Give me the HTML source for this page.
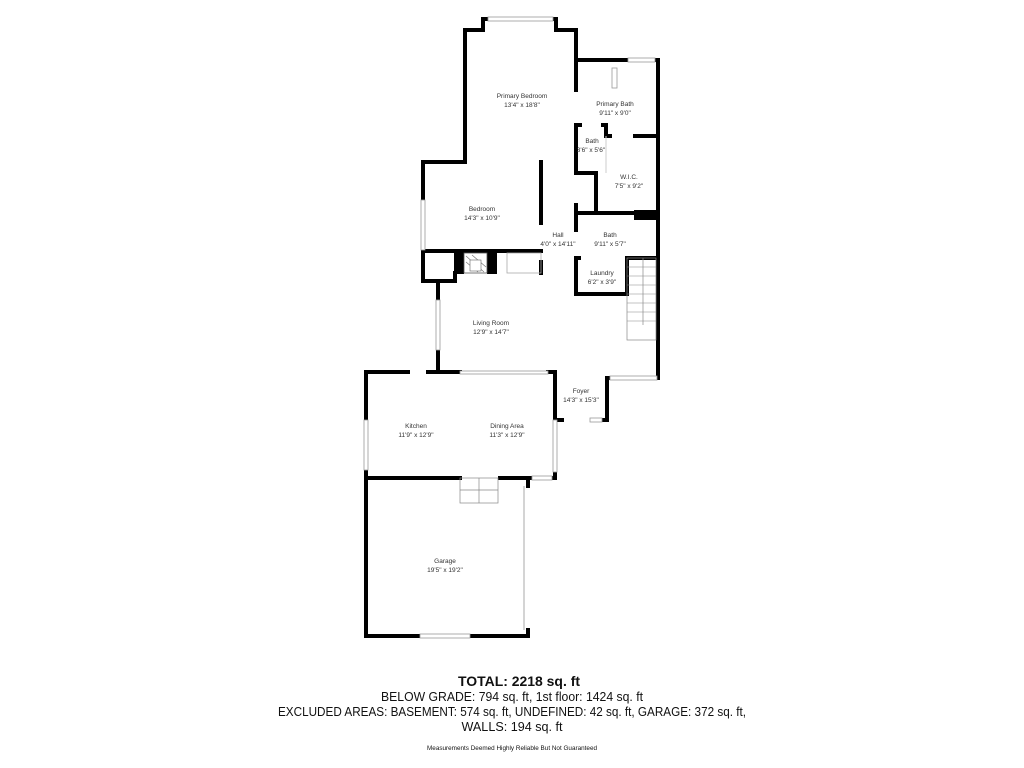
<!DOCTYPE html>
<html><head><meta charset="utf-8"><style>
html,body{margin:0;padding:0;background:#fff;width:1024px;height:768px;overflow:hidden}
svg{display:block}
.l{font-family:"Liberation Sans",sans-serif;font-size:6.5px;fill:#333;text-anchor:middle}
.t{font-family:"Liberation Sans",sans-serif;text-anchor:middle;fill:#111}
</style></head><body>
<svg width="1024" height="768" viewBox="0 0 1024 768">
<g stroke="#000" stroke-width="4" fill="none" stroke-linecap="square">
<polyline points="465,162 465,30 483,30 483,19 488,19"/>
<polyline points="553,19 556,19 556,30 576,30 576,90"/>
<polyline points="576,60 628,60"/>
<polyline points="655,60 658,60 658,378"/>
<polyline points="578,173 576,173 576,125 580,125"/>
<polyline points="603,125 606,125 606,136 610,136"/>
<line x1="576" y1="173" x2="596" y2="173"/>
<line x1="596" y1="173" x2="596" y2="212"/>
<polyline points="635,136 656,136"/>
<polyline points="465,162 423,162 423,200"/>
<polyline points="423,250 423,281 438,281 438,300"/>
<polyline points="424,251 541,251"/>
<line x1="541" y1="162" x2="541" y2="223"/>
<line x1="541" y1="262" x2="541" y2="273"/>
<polyline points="438,281 455,281 455,273"/>
<line x1="576" y1="205" x2="576" y2="230"/>
<polyline points="576,213 634,213"/>
<polyline points="576,258 576,294 627,294 627,258 656,258"/>
<line x1="576" y1="258" x2="579" y2="258"/>
<line x1="438" y1="350" x2="438" y2="372"/>
<polyline points="607,378 610,378"/>
<polyline points="607,378 607,420 600,420"/>
<polyline points="408,372 366,372 366,420"/>
<polyline points="366,470 366,636 420,636"/>
<line x1="428" y1="372" x2="460" y2="372"/>
<polyline points="548,372 555,372 555,420"/>
<polyline points="555,472 555,478 532,478"/>
<line x1="366" y1="478" x2="460" y2="478"/>
<line x1="500" y1="478" x2="528" y2="478"/>
<polyline points="470,636 528,636 528,630"/>
<line x1="528" y1="480" x2="528" y2="486"/>
<line x1="555" y1="420" x2="562" y2="420"/>
</g>
<line x1="606" y1="136" x2="606" y2="173" stroke="#ccc" stroke-width="1"/>
<rect x="634" y="210" width="23" height="10" fill="#000"/>
<rect x="454" y="251" width="10" height="23" fill="#000"/>
<rect x="487" y="251" width="10" height="23" fill="#000"/>
<rect x="464" y="253" width="23" height="20" fill="#fff" stroke="#555" stroke-width="0.8"/>
<g stroke="#777" stroke-width="0.7">
<line x1="466" y1="256" x2="484" y2="272"/><line x1="466" y1="262" x2="478" y2="272"/><line x1="472" y1="255" x2="486" y2="267"/>
</g>
<rect x="470" y="260" width="11" height="11" fill="#fff" stroke="#666" stroke-width="0.6"/>
<rect x="507" y="253" width="34" height="20" fill="none" stroke="#aaa" stroke-width="0.8"/>
<g fill="#fff" stroke="#999" stroke-width="0.8">
<rect x="488" y="17" width="65" height="4"/>
<rect x="628" y="58" width="27" height="4"/>
<rect x="421" y="200" width="4" height="50"/>
<rect x="436" y="300" width="4" height="50"/>
<rect x="610" y="376" width="47" height="4"/>
<rect x="460" y="371" width="88" height="3"/>
<rect x="364" y="420" width="4" height="50"/>
<rect x="553" y="420" width="4" height="52"/>
<rect x="532" y="476" width="20" height="4"/>
<rect x="420" y="634" width="50" height="4"/>
<rect x="612" y="68" width="5" height="20"/>
<rect x="590" y="418" width="12" height="4"/>
</g>
<line x1="524" y1="486" x2="524" y2="630" stroke="#aaa" stroke-width="1"/>
<g stroke="#888" stroke-width="0.7" fill="none">
<rect x="627" y="258" width="29" height="82"/>
<rect x="460" y="478" width="38" height="25"/>
<line x1="479" y1="478" x2="479" y2="503"/><line x1="460" y1="490" x2="498" y2="490"/>
<line x1="643" y1="258" x2="643" y2="325"/>
</g>
<g stroke="#888" stroke-width="0.6">
<line x1="627" y1="267" x2="656" y2="267"/><line x1="627" y1="276" x2="656" y2="276"/><line x1="627" y1="285" x2="656" y2="285"/><line x1="627" y1="294" x2="656" y2="294"/><line x1="627" y1="303" x2="656" y2="303"/><line x1="627" y1="312" x2="656" y2="312"/><line x1="627" y1="321" x2="656" y2="321"/>
</g>
<g>
<text class="l" x="522" y="98">Primary Bedroom</text><text class="l" x="522" y="107">13'4" x 18'8"</text>
<text class="l" x="615" y="106">Primary Bath</text><text class="l" x="615" y="115">9'11" x 9'0"</text>
<text class="l" x="592" y="143">Bath</text><text class="l" x="591" y="152">3'6" x 5'6"</text>
<text class="l" x="629" y="179">W.I.C.</text><text class="l" x="629" y="188">7'5" x 9'2"</text>
<text class="l" x="482" y="211">Bedroom</text><text class="l" x="482" y="220">14'3" x 10'9"</text>
<text class="l" x="558" y="237">Hall</text><text class="l" x="558" y="246">4'0" x 14'11"</text>
<text class="l" x="610" y="237">Bath</text><text class="l" x="610" y="246">9'11" x 5'7"</text>
<text class="l" x="602" y="275">Laundry</text><text class="l" x="602" y="284">6'2" x 3'9"</text>
<text class="l" x="491" y="325">Living Room</text><text class="l" x="491" y="334">12'9" x 14'7"</text>
<text class="l" x="581" y="393">Foyer</text><text class="l" x="581" y="402">14'3" x 15'3"</text>
<text class="l" x="416" y="428">Kitchen</text><text class="l" x="416" y="437">11'9" x 12'9"</text>
<text class="l" x="507" y="428">Dining Area</text><text class="l" x="507" y="437">11'3" x 12'9"</text>
<text class="l" x="445" y="563">Garage</text><text class="l" x="445" y="572">19'5" x 19'2"</text>
</g>
<text class="t" x="519" y="686" font-size="13.5" font-weight="bold" textLength="122" lengthAdjust="spacingAndGlyphs">TOTAL: 2218 sq. ft</text>
<text class="t" x="512" y="701" font-size="13" textLength="262" lengthAdjust="spacingAndGlyphs">BELOW GRADE: 794 sq. ft, 1st floor: 1424 sq. ft</text>
<text class="t" x="512" y="716" font-size="13" textLength="468" lengthAdjust="spacingAndGlyphs">EXCLUDED AREAS: BASEMENT: 574 sq. ft, UNDEFINED: 42 sq. ft, GARAGE: 372 sq. ft,</text>
<text class="t" x="512" y="731" font-size="13" textLength="101" lengthAdjust="spacingAndGlyphs">WALLS: 194 sq. ft</text>
<text class="t" x="512" y="750" font-size="6" textLength="170" lengthAdjust="spacingAndGlyphs">Measurements Deemed Highly Reliable But Not Guaranteed</text>
</svg>
</body></html>
